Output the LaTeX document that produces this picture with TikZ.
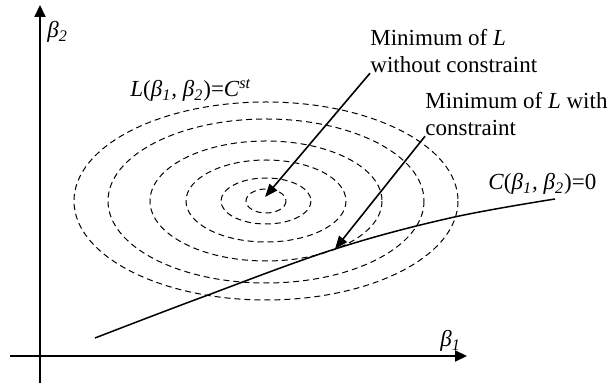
\documentclass[tikz,border=0pt]{standalone}
\usepackage{fontspec}
\setmainfont{Liberation Serif}
\usetikzlibrary{arrows.meta}
\begin{document}
\begin{tikzpicture}[x=0.5pt,y=-0.5pt,
  axis/.style={line width=1pt,-{Triangle[length=6pt,width=5.5pt]}},
  level/.style={dashed,dash pattern=on 3pt off 2pt,line width=0.5pt},
  pointer/.style={line width=0.8pt,-{Triangle[length=6.5pt,width=5pt]}},
  lbl/.style={inner sep=0pt,font=\fontsize{11.5}{13.5}\selectfont,align=left}]
\useasboundingbox (0,0) rectangle (614,383);
% axes
\coordinate (yb) at (40,383);
\coordinate (yt) at (40,5);
\coordinate (xl) at (10,356);
\coordinate (xr) at (467,356);
\draw[axis] (yb) -- (yt);
\draw[axis] (xl) -- (xr);
\node[lbl,anchor=base west] (b2) at (47,38) {\textit{β\textsubscript{2}}};
\node[lbl,anchor=base west] (b1) at (440,347) {\textit{β\textsubscript{1}}};
% level curves
\coordinate (c) at (266,201);
\foreach \a/\b in {192/99,158/82,116/60,80/41,45/23,20/12}
  \draw[level] (c) ellipse [x radius=\a, y radius=\b];
\node[lbl,anchor=base west] (Lc) at (130,97) {\textit{L}(\textit{β\textsubscript{1}, β\textsubscript{2}})=\textit{C\textsuperscript{st}}};
% constraint curve
\draw[line width=0.75pt] plot[smooth,tension=0.6] coordinates {(95,338) (200,298) (335,249) (450,218) (555,199)};
\node[lbl,anchor=base west] (Cc) at (488,190) {\textit{C}(\textit{β\textsubscript{1}, β\textsubscript{2}})=0};
% labels and pointers
\coordinate (m1) at (265,197);
\coordinate (m2) at (335,249);
\node[lbl,anchor=north west] (t1) at (370,29) {Minimum of \textit{L}\\without constraint};
\node[lbl,anchor=north west] (t2) at (425,92) {Minimum of \textit{L} with\\constraint};
\draw[pointer] (t1.south west) -- (m1);
\draw[pointer] (t2.south west) -- (m2);
\end{tikzpicture}
\end{document}
